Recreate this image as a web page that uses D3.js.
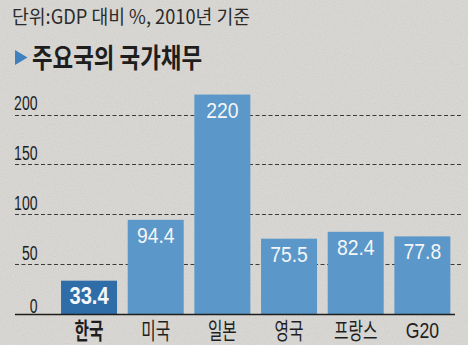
<!DOCTYPE html>
<html>
<head>
<meta charset="utf-8">
<script src="https://cdn.jsdelivr.net/npm/d3@7/dist/d3.min.js"></script>
<style>
  html, body { margin: 0; padding: 0; background: #d8d6d2; }
  svg { display: block; }
</style>
</head>
<body>
<div id="chart"></div>
<script>
// National debt of major economies, % of GDP (2010)
const categories = ["한국", "미국", "일본", "영국", "프랑스", "G20"];
const debtValues = [33.4, 94.4, 220, 75.5, 82.4, 77.8];
const yTicks = [0, 50, 100, 150, 200];
const unitText = "단위:GDP 대비 %, 2010년 기준";
const titleText = "주요국의 국가채무";

const W = 468, H = 345;
const svg = d3.select("#chart").append("svg")
  .attr("width", W).attr("height", H);

// paper grain
const defs = svg.append("defs");
const f = defs.append("filter").attr("id", "grain")
  .attr("x", 0).attr("y", 0).attr("width", "100%").attr("height", "100%");
f.append("feTurbulence").attr("type", "fractalNoise")
  .attr("baseFrequency", 0.9).attr("numOctaves", 2).attr("seed", 3).attr("result", "n");
f.append("feColorMatrix").attr("type", "matrix")
  .attr("values", "0 0 0 0 0.35  0 0 0 0 0.34  0 0 0 0 0.33  0 0 0 0.9 -0.35");

svg.append("rect").attr("width", W).attr("height", H).attr("fill", "#d9d7d3");
svg.append("rect").attr("width", W).attr("height", H)
  .attr("filter", "url(#grain)").attr("opacity", 0.35);

const korean = "'Noto Sans CJK KR', 'Noto Sans', sans-serif";
const latin = "'Liberation Sans', Arial, sans-serif";

// header
svg.append("text")
  .attr("x", 12).attr("y", 23.5)
  .attr("textLength", 238).attr("lengthAdjust", "spacingAndGlyphs")
  .style("font-family", korean).style("font-size", "19.5px")
  .attr("fill", "#2a2a2a")
  .text(unitText);

svg.append("path")
  .attr("d", d3.line()([[15, 50], [27.5, 57.5], [15, 65]]) + "Z")
  .attr("fill", "#3f80bf");

svg.append("text")
  .attr("x", 32).attr("y", 67.5)
  .attr("textLength", 170).attr("lengthAdjust", "spacingAndGlyphs")
  .style("font-family", korean).style("font-size", "27px").style("font-weight", 700)
  .attr("fill", "#1e1e1e")
  .text(titleText);

// scales
const x = d3.scaleBand().domain(categories)
  .range([55.7, 455.7]).paddingInner(0.16).paddingOuter(0.08);
const y = d3.scaleLinear().domain([0, 200]).range([314, 114.5]);

// dashed gridlines
svg.append("g").selectAll("line")
  .data(yTicks.filter(d => d > 0)).join("line")
  .attr("x1", 15).attr("x2", 463)
  .attr("y1", d => Math.round(y(d)) + 0.5).attr("y2", d => Math.round(y(d)) + 0.5)
  .attr("stroke", "#3a3a3a").attr("stroke-width", 1)
  .attr("stroke-dasharray", "4,2.5");

// y tick labels (condensed)
svg.append("g").selectAll("text")
  .data(yTicks).join("text")
  .attr("transform", d => `translate(37.5,${d === 0 ? y(d) - 1 : y(d) - 4.5}) scale(0.72,1)`)
  .attr("text-anchor", "end")
  .style("font-family", latin).style("font-size", "19.5px")
  .attr("fill", "#1e1e1e")
  .text(d => d);

// bars
svg.append("g").selectAll("rect")
  .data(debtValues).join("rect")
  .attr("x", (d, i) => x(categories[i]))
  .attr("width", x.bandwidth())
  .attr("y", d => y(d))
  .attr("height", d => y(0) - y(d))
  .attr("fill", (d, i) => i === 0 ? "#2f6da8" : "#5b97c8");

// value labels inside bars
svg.append("g").selectAll("text")
  .data(debtValues).join("text")
  .attr("transform", (d, i) =>
    `translate(${x(categories[i]) + x.bandwidth() / 2},${y(d) + (i === 0 ? 23.5 : 23)}) scale(${i === 0 ? 0.84 : 0.86},1)`)
  .attr("text-anchor", "middle")
  .style("font-family", latin)
  .style("font-size", (d, i) => i === 0 ? "24px" : "22.5px")
  .style("font-weight", (d, i) => i === 0 ? 700 : 400)
  .attr("fill", "#f4f6f8")
  .text(d => d);

// baseline
svg.append("line")
  .attr("x1", 15).attr("x2", 455)
  .attr("y1", y(0) + 0.5).attr("y2", y(0) + 0.5)
  .attr("stroke", "#1e1e1e").attr("stroke-width", 1.5);

// category labels
svg.append("g").selectAll("text")
  .data(categories).join("text")
  .attr("transform", d => `translate(${x(d) + x.bandwidth() / 2},${d === "G20" ? 337.5 : 338.5}) scale(${d === "G20" ? 0.8 : 0.7},1)`)
  .attr("text-anchor", "middle")
  .style("font-family", d => d === "G20" ? latin : korean)
  .style("font-size", d => d === "G20" ? "22px" : "22.5px")
  .style("font-weight", (d, i) => i === 0 ? 700 : 400)
  .attr("fill", "#1e1e1e")
  .text(d => d);
</script>
</body>
</html>
